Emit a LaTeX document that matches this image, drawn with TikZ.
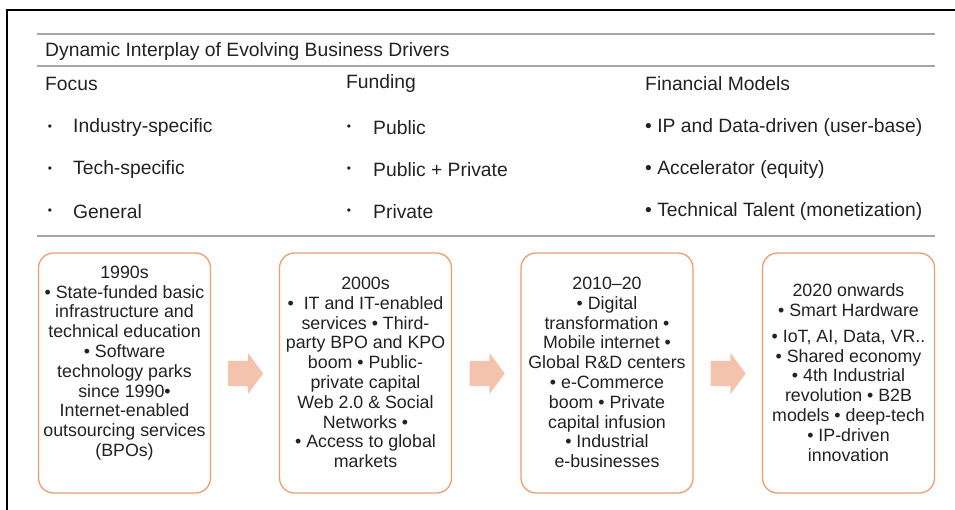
\documentclass[tikz,border=0pt]{standalone}
\usepackage{fontspec}
\setmainfont{Liberation Sans}
\usetikzlibrary{shapes.arrows}
\definecolor{boxline}{HTML}{EE9E6E}
\definecolor{arrowfill}{HTML}{F4C3AE}
\definecolor{rulegray}{HTML}{A6A6A6}
\definecolor{txt}{HTML}{222222}
\tikzset{
  hdr/.style={anchor=west, inner sep=0pt, text=txt, font=\fontsize{19.3}{23}\selectfont},
  item/.style={anchor=west, inner sep=0pt, text=txt, font=\fontsize{19.3}{23}\selectfont},
  dot/.style={anchor=center, inner sep=0pt, text=txt, font=\fontsize{12}{14}\selectfont},
  era/.style={draw=boxline, line width=1.3pt, fill=white, rounded corners=15pt,
              minimum width=172pt, minimum height=240pt, inner sep=0pt},
  eratext/.style={align=center, inner sep=0pt, text=txt, font=\fontsize{17.8}{19.8}\selectfont},
  blockarr/.style={single arrow, draw=none, fill=arrowfill,
              minimum height=35pt, single arrow head extend=8pt, single arrow head indent=0pt,
              single arrow tip angle=107, inner xsep=0pt, inner ysep=12.5pt},
  grayrule/.style={draw=rulegray, line width=2pt},
}
\begin{document}
\begin{tikzpicture}[x=1pt,y=-1pt]
\useasboundingbox (0,0) rectangle (955,510);
% frame
\draw[black, line width=1.5pt] (7,510) -- (7,10) -- (955,10);
% rules
\coordinate (r1a) at (37,34); \coordinate (r1b) at (935,34);
\coordinate (r2a) at (37,66); \coordinate (r2b) at (935,66);
\coordinate (r3a) at (37,236); \coordinate (r3b) at (935,236);
\draw[grayrule] (r1a) -- (r1b);
\draw[grayrule] (r2a) -- (r2b);
\draw[grayrule] (r3a) -- (r3b);
% title and headers
\node[hdr] (title) at (45,52) {Dynamic Interplay of Evolving Business Drivers};
\node[hdr] (focus) at (45,83.5) {Focus};
\node[hdr] (funding) at (346,83.5) {Funding};
\node[hdr] (fin) at (645,83.5) {Financial Models};
% focus items
\node[dot] (fd1) at (50,128) {•};
\node[dot] (fd2) at (50,170) {•};
\node[dot] (fd3) at (50,212) {•};
\node[item] (f1) at (73,128) {Industry-specific};
\node[item] (f2) at (73,170) {Tech-specific};
\node[item] (f3) at (73,212) {General};
% funding items
\node[dot] (gd1) at (349,128) {•};
\node[dot] (gd2) at (349,170) {•};
\node[dot] (gd3) at (349,212) {•};
\node[item] (g1) at (373,128) {Public};
\node[item] (g2) at (373,170) {Public + Private};
\node[item] (g3) at (373,212) {Private};
% financial items
\node[item] (m1) at (645,128) {• IP and Data-driven (user-base)};
\node[item] (m2) at (645,170) {• Accelerator (equity)};
\node[item] (m3) at (645,212) {• Technical Talent (monetization)};
% era boxes
\node[era] (b1) at (124.5,373) {};
\node[era] (b2) at (365.5,373) {};
\node[era] (b3) at (607,373) {};
\node[era] (b4) at (848.5,373) {};
\node[eratext] (t1) at (124.5,363) {1990s\\• State-funded basic\\infrastructure and\\technical education\\• Software\\technology parks\\since 1990•\\Internet-enabled\\outsourcing services\\(BPOs)};
\node[eratext] (t2) at (365.5,372.5) {2000s\\•\ \ IT and IT-enabled\\services • Third-\\party BPO and KPO\\boom • Public-\\private capital\\Web 2.0 \& Social\\Networks •\\• Access to global\\markets};
\node[eratext] (t3) at (607,372.5) {2010–20\\• Digital\\transformation •\\Mobile internet •\\Global R\&D centers\\• e-Commerce\\boom • Private\\capital infusion\\• Industrial\\e-businesses};
\node[eratext] (t4) at (848.5,372.5) {2020 onwards\\• Smart Hardware\\[6pt]• IoT, AI, Data, VR..\\• Shared economy\\• 4th Industrial\\revolution • B2B\\models • deep-tech\\• IP-driven\\innovation};
% arrows
\node[blockarr] (a1) at (241,373.5) {};
\node[blockarr] (a2) at (482.5,373.5) {};
\node[blockarr] (a3) at (723.5,373.5) {};
\end{tikzpicture}
\end{document}
